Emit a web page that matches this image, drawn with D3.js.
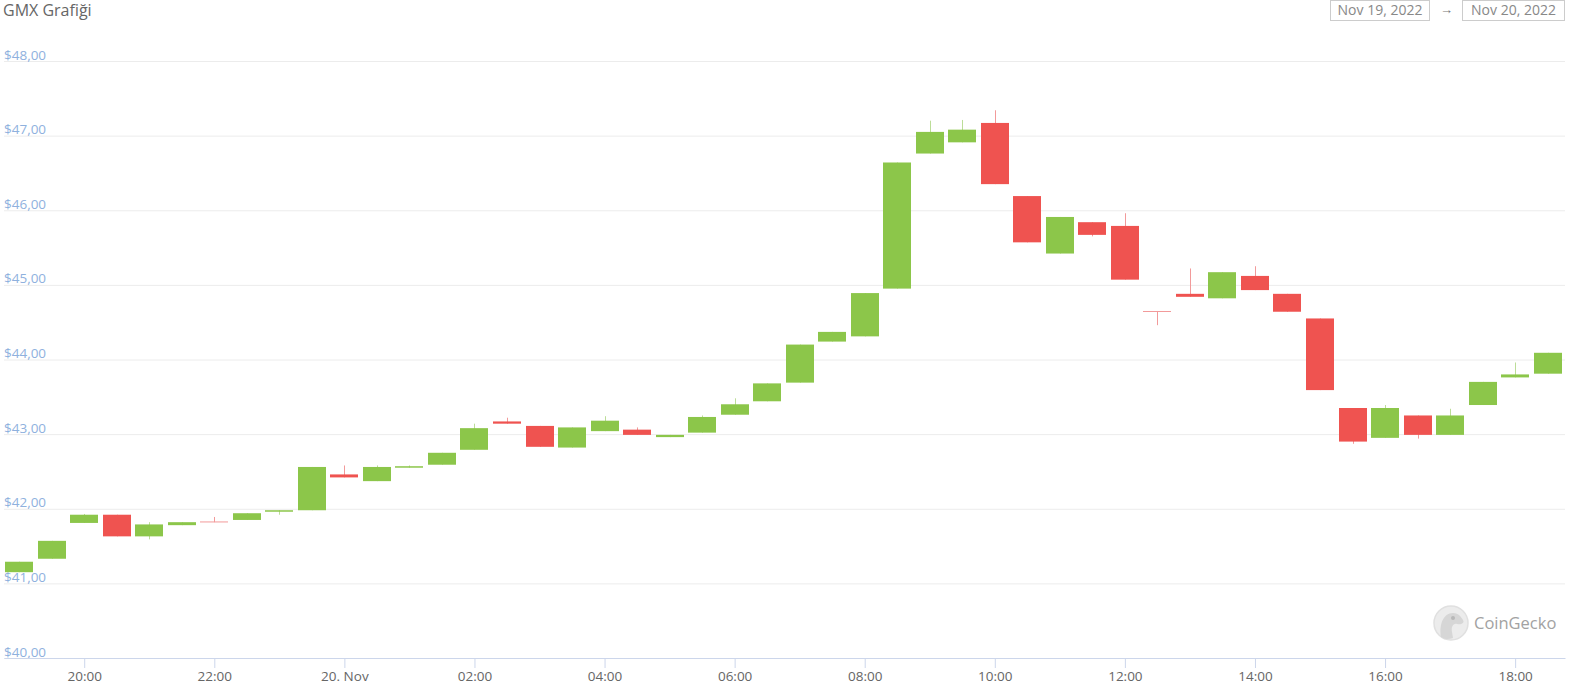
<!DOCTYPE html>
<html>
<head>
<meta charset="utf-8">
<script src="https://cdn.jsdelivr.net/npm/d3@7"></script>
<style>
  html, body { margin: 0; padding: 0; background: #fff; }
  svg { display: block; font-family: "Open Sans", "Noto Sans", sans-serif; }
</style>
</head>
<body>
<svg id="chart" width="1589" height="688"></svg>
<script>
// 30-minute GMX candles, Nov 19 19:00 -> Nov 20 18:30
const opens  = [41.15, 41.33, 41.81, 41.92, 41.63, 41.78, 41.83, 41.85, 41.96, 41.98,
                42.46, 42.37, 42.55, 42.59, 42.79, 43.17, 43.11, 42.82, 43.04, 43.06,
                42.96, 43.02, 43.26, 43.44, 43.69, 44.24, 44.31, 44.95, 46.76, 46.91,
                47.17, 46.19, 45.42, 45.84, 45.79, 44.65, 44.88, 44.82, 45.12, 44.88,
                44.55, 43.35, 42.95, 43.25, 42.99, 43.39, 43.76, 43.81];
const closes = [41.29, 41.57, 41.92, 41.63, 41.79, 41.82, 41.82, 41.94, 41.98, 42.56,
                42.42, 42.56, 42.57, 42.75, 43.08, 43.14, 42.83, 43.09, 43.18, 42.99,
                42.99, 43.23, 43.40, 43.68, 44.20, 44.37, 44.89, 46.64, 47.05, 47.08,
                46.35, 45.57, 45.91, 45.67, 45.07, 44.645, 44.84, 45.17, 44.93, 44.64,
                43.59, 42.90, 43.35, 42.99, 43.25, 43.70, 43.80, 44.09];
const highs  = [41.29, 41.57, 41.93, 41.92, 41.82, 41.82, 41.89, 41.94, 41.98, 42.56,
                42.58, 42.58, 42.58, 42.75, 43.14, 43.22, 43.11, 43.09, 43.24, 43.09,
                42.99, 43.25, 43.48, 43.68, 44.20, 44.37, 44.89, 46.64, 47.20, 47.21,
                47.34, 46.19, 45.91, 45.84, 45.96, 44.65, 45.22, 45.17, 45.25, 44.88,
                44.55, 43.35, 43.39, 43.25, 43.34, 43.70, 43.96, 44.09];
const lows   = [41.15, 41.33, 41.81, 41.63, 41.59, 41.78, 41.82, 41.85, 41.92, 41.98,
                42.42, 42.37, 42.55, 42.59, 42.79, 43.14, 42.83, 42.82, 43.04, 42.99,
                42.96, 43.02, 43.26, 43.44, 43.69, 44.24, 44.31, 44.95, 46.76, 46.91,
                46.35, 45.57, 45.42, 45.65, 45.07, 44.46, 44.84, 44.82, 44.93, 44.64,
                43.59, 42.87, 42.95, 42.94, 42.99, 43.39, 43.76, 43.81];
const yTicks = [40, 41, 42, 43, 44, 45, 46, 47, 48];
const dateRange = ["Nov 19, 2022", "Nov 20, 2022"];
const title = "GMX Grafiği";

const firstCandle = new Date(2022, 10, 19, 19, 0);
const candles = opens.map((o, i) => ({
  t: d3.timeMinute.offset(firstCandle, 30 * i),
  o, c: closes[i], h: highs[i], l: lows[i]
}));

const W = 1589, H = 688;
const plotL = 4, plotR = 1565, plotT = 61, plotB = 658;
const UP = "#8cc64a", DOWN = "#ef5350";
const UP_WICK = "#bcdd98", DOWN_WICK = "#f29a9a";

const svg = d3.select("#chart");
svg.append("rect").attr("width", W).attr("height", H).attr("fill", "#fff");

const x = d3.scaleTime()
  .domain([d3.timeMinute.offset(firstCandle, -14), d3.timeMinute.offset(firstCandle, 24 * 60 - 14)])
  .range([plotL, plotR]);
const y = d3.scaleLinear().domain([40, 48]).range([plotB, plotT]);

const locale = d3.formatLocale({ decimal: ",", thousands: ".", grouping: [3], currency: ["$", ""] });
const fmtPrice = locale.format("$.2f");

// grid + y labels
const yAxis = svg.append("g")
  .attr("transform", `translate(${plotL},0)`)
  .call(d3.axisRight(y).tickValues(yTicks).tickSize(plotR - plotL).tickFormat(fmtPrice));
yAxis.select(".domain").remove();
yAxis.selectAll(".tick line").attr("stroke", "#ececec");
yAxis.selectAll(".tick text")
  .attr("x", 0).attr("dy", -2)
  .attr("text-anchor", "start")
  .attr("fill", "#8fb1de")
  .style("font-size", "13.5px")
  .style("font-family", "'Open Sans', sans-serif");

// x axis
const xAxis = svg.append("g")
  .attr("transform", `translate(0,${plotB})`)
  .call(d3.axisBottom(x)
    .ticks(d3.timeHour.every(2))
    .tickSize(10)
    .tickSizeOuter(0)
    .tickFormat(d => d.getHours() === 0 ? d3.timeFormat("%-d. ")(d) + "Nov" : d3.timeFormat("%H:%M")(d)));
xAxis.select(".domain").attr("stroke", "#ccd6eb");
xAxis.selectAll(".tick line").attr("stroke", "#ccd6eb");
xAxis.selectAll(".tick text")
  .attr("fill", "#666")
  .style("font-size", "13.5px")
  .style("font-family", "'Open Sans', sans-serif");

// candles
const bodyW = 28;
const cg = svg.append("g");
cg.selectAll("line.wick")
  .data(candles)
  .join("line")
  .attr("class", "wick")
  .attr("x1", d => Math.round(x(d.t)) + 0.5)
  .attr("x2", d => Math.round(x(d.t)) + 0.5)
  .attr("y1", d => y(d.h))
  .attr("y2", d => y(d.l))
  .attr("stroke", d => d.c >= d.o ? UP_WICK : DOWN_WICK)
  .attr("stroke-width", 1);

cg.selectAll("rect.body")
  .data(candles)
  .join("rect")
  .attr("class", "body")
  .attr("x", d => Math.round(x(d.t)) - bodyW / 2)
  .attr("width", bodyW)
  .attr("y", d => y(Math.max(d.o, d.c)))
  .attr("height", d => Math.max(1, Math.abs(y(d.o) - y(d.c))))
  .attr("fill", d => Math.abs(d.o - d.c) < 0.01 ? (d.c >= d.o ? UP_WICK : DOWN_WICK) : (d.c >= d.o ? UP : DOWN));

// title
svg.append("text")
  .attr("x", 3).attr("y", 16)
  .attr("fill", "#666")
  .style("font-size", "16px")
  .text(title);

// date range boxes
const boxes = [{ x0: 1330, x1: 1429, label: dateRange[0] }, { x0: 1462, x1: 1564, label: dateRange[1] }];
const bg = svg.append("g");
boxes.forEach(b => {
  bg.append("rect")
    .attr("x", b.x0 + 0.5).attr("y", 0.5)
    .attr("width", b.x1 - b.x0).attr("height", 20)
    .attr("fill", "#fff").attr("stroke", "#cccccc");
  bg.append("text")
    .attr("x", (b.x0 + b.x1) / 2 + 0.5).attr("y", 15)
    .attr("text-anchor", "middle")
    .attr("fill", "#888")
    .style("font-size", "14px")
    .text(b.label);
});
bg.append("text")
  .attr("x", 1446.5).attr("y", 14)
  .attr("text-anchor", "middle")
  .attr("fill", "#777")
  .style("font-size", "13px")
  .text("→");

// CoinGecko watermark
const wm = svg.append("g").attr("transform", "translate(1451,623)");
wm.append("circle").attr("r", 17).attr("fill", "#ececec").attr("stroke", "#e0e0e0").attr("stroke-width", 1.5);
wm.append("path")
  .attr("d", "M-10,14 C-12,2 -8,-10 2,-10 C8,-10 10,-6 12,-3 C14,0 10,2 6,1 C2,0 0,4 1,9 L2,15 C-3,17 -7,16 -10,14 Z")
  .attr("fill", "#d6d6d6");
wm.append("circle").attr("cx", 2).attr("cy", -5).attr("r", 2).attr("fill", "#b8b8b8");
svg.append("text")
  .attr("x", 1474).attr("y", 629)
  .attr("fill", "#a2a2a2")
  .style("font-size", "16.5px")
  .style("font-weight", 500)
  .text("CoinGecko");
</script>
</body>
</html>
